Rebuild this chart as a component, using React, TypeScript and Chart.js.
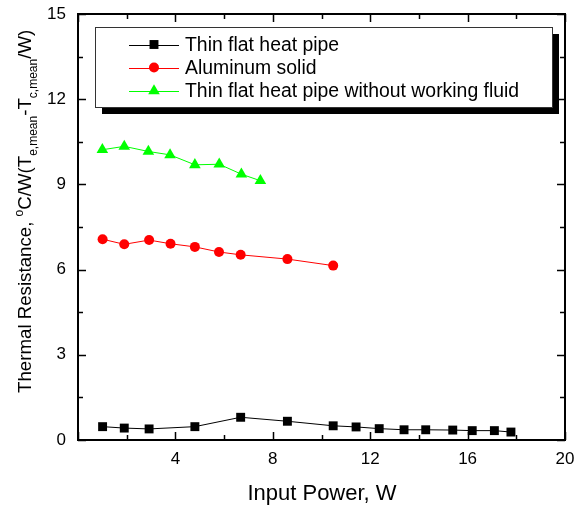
import React, { useEffect, useRef } from "react";
import { Chart, registerables } from "chart.js";

Chart.register(...registerables);

const xThin = [1.01, 1.9, 2.92, 4.8, 6.68, 8.6, 10.48, 11.42, 12.37, 13.39, 14.28, 15.39, 16.19, 17.1, 17.78];
const yThin = [0.47, 0.42, 0.39, 0.47, 0.8, 0.66, 0.5, 0.46, 0.4, 0.36, 0.36, 0.35, 0.33, 0.33, 0.28];
const xAlu = [1.01, 1.9, 2.92, 3.8, 4.8, 5.79, 6.68, 8.6, 10.48];
const yAlu = [7.07, 6.89, 7.04, 6.91, 6.8, 6.62, 6.52, 6.37, 6.14];
const xDry = [1.0, 1.9, 2.89, 3.78, 4.8, 5.8, 6.71, 7.49];
const yDry = [10.22, 10.34, 10.16, 10.04, 9.69, 9.71, 9.36, 9.13];

const seriesNames = [
  "Thin flat heat pipe",
  "Aluminum solid",
  "Thin flat heat pipe without working fluid",
];
const xMajorTicks = [0, 4, 8, 12, 16, 20];
const yMajorTicks = [0, 3, 6, 9, 12, 15];
const xMinorTicks = [2, 6, 10, 14, 18];
const yMinorTicks = [1.5, 4.5, 7.5, 10.5, 13.5];

const FONT = '"Liberation Sans", Arial, sans-serif';

function zip(xs: number[], ys: number[]) {
  return xs.map((x, i) => ({ x, y: ys[i] }));
}

function drawMarker(ctx: CanvasRenderingContext2D, style: string, x: number, y: number, r: number, color: string) {
  ctx.fillStyle = color;
  ctx.beginPath();
  if (style === "rect") {
    const s = Math.SQRT1_2 * r;
    ctx.rect(x - s, y - s, 2 * s, 2 * s);
  } else if (style === "circle") {
    ctx.arc(x, y, r, 0, Math.PI * 2);
  } else {
    ctx.moveTo(x, y - r);
    ctx.lineTo(x + r * Math.sin(Math.PI * 2 / 3), y + r / 2);
    ctx.lineTo(x - r * Math.sin(Math.PI * 2 / 3), y + r / 2);
    ctx.closePath();
  }
  ctx.fill();
}

const framePlugin = {
  id: "frame",
  afterDraw(chart: any) {
    const ctx: CanvasRenderingContext2D = chart.ctx;
    const { left, right, top, bottom } = chart.chartArea;
    const xs = chart.scales.x;
    const ys = chart.scales.y;
    ctx.save();
    ctx.strokeStyle = "#000";
    ctx.lineWidth = 2;
    ctx.strokeRect(left, top, right - left, bottom - top);
    ctx.lineWidth = 1.5;
    ctx.beginPath();
    const tick = (vals: number[], len: number) => {
      vals.forEach((v) => {
        const px = Math.round(xs.getPixelForValue(v)) + 0.5;
        ctx.moveTo(px, bottom);
        ctx.lineTo(px, bottom - len);
        ctx.moveTo(px, top);
        ctx.lineTo(px, top + len);
      });
    };
    const tickY = (vals: number[], len: number) => {
      vals.forEach((v) => {
        const py = Math.round(ys.getPixelForValue(v)) + 0.5;
        ctx.moveTo(left, py);
        ctx.lineTo(left + len, py);
        ctx.moveTo(right, py);
        ctx.lineTo(right - len, py);
      });
    };
    tick(xMajorTicks, 8);
    tick(xMinorTicks, 5);
    tickY(yMajorTicks, 8);
    tickY(yMinorTicks, 5);
    ctx.stroke();

    // legend
    const bx = 95, by = 27, bw = 457, bh = 80;
    ctx.fillStyle = "#000";
    ctx.fillRect(bx + 7, by + 7, bw, bh);
    ctx.fillStyle = "#fff";
    ctx.fillRect(bx, by, bw, bh);
    ctx.strokeStyle = "#333";
    ctx.lineWidth = 1;
    ctx.strokeRect(bx + 0.5, by + 0.5, bw, bh);
    const rows = [44.5, 67.5, 91];
    chart.data.datasets.forEach((ds: any, i: number) => {
      const yy = rows[i];
      ctx.strokeStyle = ds.borderColor;
      ctx.lineWidth = 1;
      ctx.beginPath();
      ctx.moveTo(129, Math.round(yy) + 0.5);
      ctx.lineTo(179, Math.round(yy) + 0.5);
      ctx.stroke();
      drawMarker(ctx, ds.pointStyle, 154, yy, ds.pointRadius, ds.pointBackgroundColor);
      ctx.fillStyle = "#000";
      ctx.font = `19.4px ${FONT}`;
      ctx.textBaseline = "middle";
      ctx.textAlign = "left";
      ctx.fillText(ds.label, 185, yy + 1);
    });

    // x title
    ctx.fillStyle = "#000";
    ctx.font = `22px ${FONT}`;
    ctx.textAlign = "center";
    ctx.textBaseline = "alphabetic";
    ctx.fillText("Input Power, W", 322, 500);

    // y title with super/subscripts
    ctx.save();
    ctx.translate(31, 393);
    ctx.rotate(-Math.PI / 2);
    ctx.textAlign = "left";
    ctx.textBaseline = "alphabetic";
    const segs: [string, string][] = [
      ["Thermal Resistance, ", "n"],
      ["o", "sup"],
      ["C/W(T", "n"],
      ["e,mean", "sub"],
      ["-T", "n"],
      ["c,mean", "sub"],
      ["/W)", "n"],
    ];
    let cx = 0;
    segs.forEach(([t, k]) => {
      if (k === "n") {
        ctx.font = `18.7px ${FONT}`;
        ctx.fillText(t, cx, 0);
      } else if (k === "sup") {
        ctx.font = `12px ${FONT}`;
        ctx.fillText(t, cx, -8);
      } else {
        ctx.font = `12px ${FONT}`;
        ctx.fillText(t, cx, 6);
      }
      cx += ctx.measureText(t).width;
    });
    ctx.restore();
    ctx.restore();
  },
};

export default function App() {
  const ref = useRef<HTMLCanvasElement | null>(null);
  useEffect(() => {
    if (!ref.current) return;
    const chart = new Chart(ref.current, {
      type: "scatter",
      data: {
        datasets: [
          {
            label: seriesNames[0],
            data: zip(xThin, yThin),
            showLine: true,
            borderColor: "#000000",
            borderWidth: 1,
            pointStyle: "rect",
            pointRadius: 6.3,
            pointBackgroundColor: "#000000",
            pointBorderWidth: 0,
          },
          {
            label: seriesNames[1],
            data: zip(xAlu, yAlu),
            showLine: true,
            borderColor: "#ff0000",
            borderWidth: 1,
            pointStyle: "circle",
            pointRadius: 5,
            pointBackgroundColor: "#ff0000",
            pointBorderWidth: 0,
          },
          {
            label: seriesNames[2],
            data: zip(xDry, yDry),
            showLine: true,
            borderColor: "#00ff00",
            borderWidth: 1,
            pointStyle: "triangle",
            pointRadius: 6.7,
            pointBackgroundColor: "#00ff00",
            pointBorderWidth: 0,
          },
        ] as any,
      },
      options: {
        animation: false,
        responsive: false,
        maintainAspectRatio: false,
        layout: { padding: { left: 0, top: 14, right: 9, bottom: 0 } },
        plugins: {
          legend: { display: false },
          tooltip: { enabled: false },
        },
        scales: {
          x: {
            type: "linear",
            min: 0,
            max: 20,
            afterFit: (s: any) => {
              s.height = 66;
              s.paddingLeft = 0;
              s.paddingRight = 0;
            },
            afterBuildTicks: (s: any) => {
              s.ticks = xMajorTicks.map((v) => ({ value: v }));
            },
            grid: { display: false, drawTicks: false },
            border: { display: false },
            ticks: {
              padding: 9,
              color: "#000",
              font: { family: FONT, size: 17 },
              callback: (v: any) => (v === 0 ? "" : String(v)),
            },
          },
          y: {
            type: "linear",
            min: 0,
            max: 15,
            afterFit: (s: any) => {
              s.width = 78;
              s.paddingTop = 0;
              s.paddingBottom = 0;
            },
            afterBuildTicks: (s: any) => {
              s.ticks = yMajorTicks.map((v) => ({ value: v }));
            },
            grid: { display: false, drawTicks: false },
            border: { display: false },
            ticks: {
              padding: 12,
              color: "#000",
              font: { family: FONT, size: 17 },
              callback: (v: any) => String(v),
            },
          },
        },
      } as any,
      plugins: [framePlugin],
    });
    return () => chart.destroy();
  }, []);
  return (
    <div style={{ position: "absolute", left: 0, top: 0, width: 574, height: 506, background: "#fff" }}>
      <canvas ref={ref} width={574} height={506} style={{ display: "block" }} />
    </div>
  );
}
